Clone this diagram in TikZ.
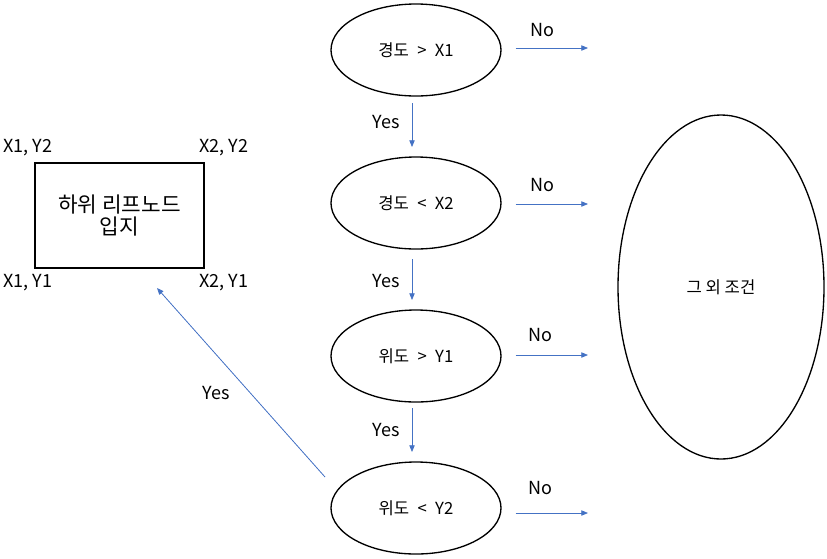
\documentclass[tikz,border=0pt]{standalone}
\usepackage{fontspec}
\setmainfont{Noto Sans CJK KR}
\usetikzlibrary{shapes.geometric, arrows.meta, positioning}
\definecolor{arrowblue}{RGB}{68,114,196}

\begin{document}
\begin{tikzpicture}[
    % GLOBAL CFG
    x=0.75pt, y=-0.75pt,
    font=\fontsize{13.5}{16}\selectfont,
    % Styles
    cond/.style={% For the test ellipses
        ellipse,
        draw,
        line width=1pt,
        minimum width=127.5pt,
        minimum height=69pt,
        inner sep=1pt,
        font=\fontsize{12.5}{15}\selectfont,
        },
    other/.style={% For the big ellipse
        ellipse,
        draw,
        line width=1pt,
        minimum width=154.5pt,
        minimum height=258pt,
        font=\fontsize{12.5}{15}\selectfont,
        },
    leaf/.style={% For the result box
        rectangle,
        draw,
        line width=1pt,
        minimum width=126.75pt,
        minimum height=78.75pt,
        align=center,
        font=\fontsize{16}{17}\selectfont,
        },
    mylabel/.style={% Yes / No and corners
        inner sep=1pt,
        },
    ArrowB/.style={% Thin blue arrows
        draw=arrowblue,
        line width=0.6pt,
        -{Triangle[length=5pt,width=4pt]},
        },
    ]

    \useasboundingbox (0,0) rectangle (827,558);

    % Draw the conditions named e#
    \node [cond] (e1) at (416,50) {경도\enskip>\enskip X1};
    \node [cond] (e2) at (416,203) {경도\enskip<\enskip X2};
    \node [cond] (e3) at (416,356) {위도\enskip>\enskip Y1};
    \node [cond] (e4) at (416,508) {위도\enskip<\enskip Y2};

    % Draw the big ellipse
    \node [other] (rest) at (721,287) {그 외 조건};

    % Draw the leaf box and its corners
    \node [leaf] (box) at (119.5,215.5) {하위 리프노드\\[0pt]입지};
    \node [mylabel] (c12) at (28,148) {X1, Y2};
    \node [mylabel] (c22) at (224,148) {X2, Y2};
    \node [mylabel] (c11) at (28,283) {X1, Y1};
    \node [mylabel] (c21) at (224,283) {X2, Y1};

    % Free ends of the No arrows
    \coordinate (no1) at (588,48);
    \coordinate (no2) at (588,204);
    \coordinate (no3) at (588,355);
    \coordinate (no4) at (588,513);

    % Ends of the diagonal arrow
    \coordinate (yesfrom) at (325,477);
    \coordinate (yesto) at (157,288);

% Start connecting all.
    % Yes arrows
    \draw [ArrowB, shorten <=5pt, shorten >=7pt] ([xshift=-3pt]e1.south) -- ([xshift=-3pt]e2.north);
    \draw [ArrowB, shorten <=7pt, shorten >=7pt] ([xshift=-3pt]e2.south) -- ([xshift=-3pt]e3.north);
    \draw [ArrowB, shorten <=4pt, shorten >=7pt] ([xshift=-3pt]e3.south) -- ([xshift=-3pt]e4.north);
    \draw [ArrowB] (yesfrom) -- (yesto);

    % No arrows
    \draw [ArrowB] (e1.east |- no1) ++(14,0) -- (no1);
    \draw [ArrowB] (e2.east |- no2) ++(14,0) -- (no2);
    \draw [ArrowB] (e3.east |- no3) ++(14,0) -- (no3);
    \draw [ArrowB] (e4.east |- no4) ++(14,0) -- (no4);

    % Labels
    \node [mylabel] at (386,122) {Yes};
    \node [mylabel] at (386,281) {Yes};
    \node [mylabel] at (386,430) {Yes};
    \node [mylabel] at (216,393) {Yes};
    \node [mylabel] at (542,30) {No};
    \node [mylabel] at (542,185) {No};
    \node [mylabel] at (540,335) {No};
    \node [mylabel] at (540,488) {No};

\end{tikzpicture}
\end{document}
